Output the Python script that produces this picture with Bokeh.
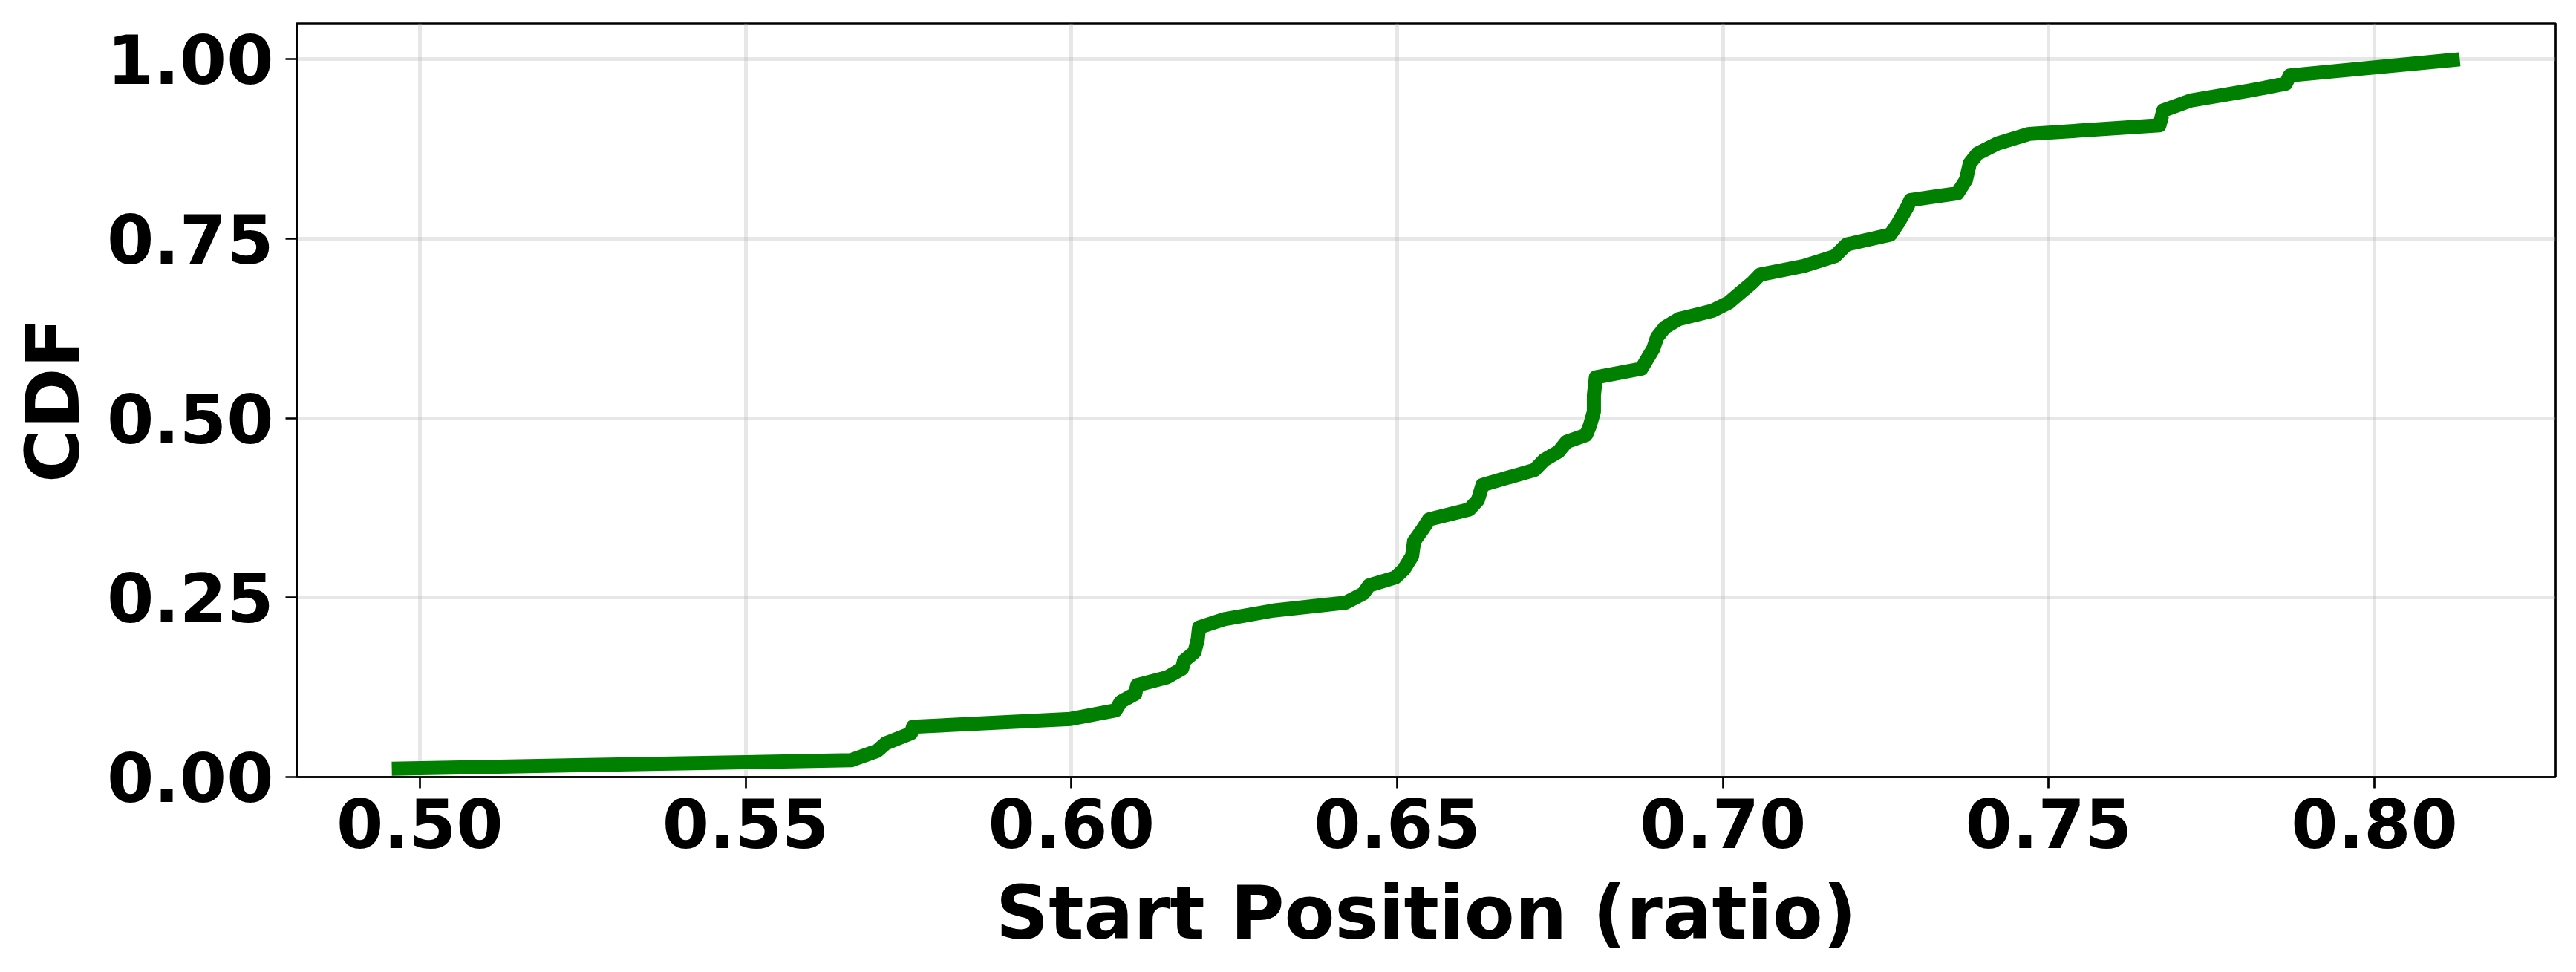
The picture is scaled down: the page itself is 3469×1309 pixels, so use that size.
from bokeh.plotting import figure
from bokeh.models import Range1d, FixedTicker, NumeralTickFormatter
from bokeh.embed import file_html
from bokeh.resources import INLINE

# Data
start_position = [0.4957, 0.5662, 0.5702, 0.5715, 0.5754, 0.5757, 0.5999, 0.6068, 0.6076, 0.6098,
                  0.6101, 0.6147, 0.6170, 0.6173, 0.6189, 0.6194, 0.6196, 0.6235, 0.6310, 0.6421,
                  0.6448, 0.6457, 0.6497, 0.6510, 0.6523, 0.6526, 0.6539, 0.6549, 0.6611, 0.6624,
                  0.6631, 0.6711, 0.6726, 0.6748, 0.6760, 0.6790, 0.6796, 0.6802, 0.6802, 0.6805,
                  0.6875, 0.6884, 0.6893, 0.6899, 0.6911, 0.6932, 0.6984, 0.7009, 0.7027, 0.7045,
                  0.7057, 0.7124, 0.7172, 0.7190, 0.7257, 0.7269, 0.7282, 0.7288, 0.7360, 0.7373,
                  0.7379, 0.7391, 0.7421, 0.7470, 0.7670, 0.7676, 0.7718, 0.7809, 0.7864, 0.7870,
                  0.8131]
cdf = [0.0117, 0.0235, 0.0365, 0.047, 0.061, 0.070, 0.081, 0.093, 0.105, 0.116,
       0.128, 0.139, 0.151, 0.162, 0.174, 0.192, 0.2085, 0.220, 0.232, 0.243,
       0.2556, 0.267, 0.278, 0.289, 0.308, 0.3285, 0.345, 0.359, 0.373, 0.386,
       0.407, 0.428, 0.442, 0.4535, 0.467, 0.4766, 0.490, 0.509, 0.532, 0.557,
       0.569, 0.5827, 0.5965, 0.6127, 0.6265, 0.638, 0.6496, 0.661, 0.675, 0.6887,
       0.700, 0.712, 0.7257, 0.742, 0.7557, 0.772, 0.7926, 0.804, 0.8133, 0.8318,
       0.855, 0.8687, 0.8825, 0.896, 0.908, 0.9287, 0.9425, 0.9565, 0.966, 0.9775,
       1.0]
x_ticks = [0.50, 0.55, 0.60, 0.65, 0.70, 0.75, 0.80]
y_ticks = [0.00, 0.25, 0.50, 0.75, 1.00]
x_label = "Start Position (ratio)"
y_label = "CDF"

FONT = "DejaVu Sans"

p = figure(width=3461, height=1301, output_backend="svg", toolbar_location=None,
           x_range=Range1d(0.4811, 0.8278), y_range=Range1d(0.0, 1.05),
           min_border_left=399, min_border_right=20, min_border_top=31, min_border_bottom=255)

p.line(start_position, cdf, line_color="#008000", line_width=19,
       line_join="round", line_cap="butt")

p.outline_line_color = "black"
p.outline_line_width = 2.7
p.background_fill_color = "white"
p.border_fill_color = "white"

for ax in (p.xaxis[0], p.yaxis[0]):
    ax.axis_line_width = 2.7
    ax.axis_line_color = "black"
    ax.major_tick_line_width = 2.7
    ax.major_tick_line_color = "black"
    ax.major_tick_out = 15
    ax.major_tick_in = 0
    ax.minor_tick_line_color = None
    ax.major_label_text_font = FONT
    ax.major_label_text_font_style = "bold"
    ax.major_label_text_font_size = "91px"
    ax.major_label_text_color = "black"
    ax.axis_label_text_font = FONT
    ax.axis_label_text_font_style = "bold"
    ax.axis_label_text_font_size = "99px"
    ax.axis_label_text_color = "black"

p.xaxis.ticker = FixedTicker(ticks=x_ticks)
p.yaxis.ticker = FixedTicker(ticks=y_ticks)
p.xaxis.formatter = NumeralTickFormatter(format="0.00")
p.yaxis.formatter = NumeralTickFormatter(format="0.00")
p.xaxis.axis_label = x_label
p.yaxis.axis_label = y_label
p.xaxis.major_label_standoff = 13
p.yaxis.major_label_standoff = 16
p.xaxis.axis_label_standoff = 27
p.yaxis.axis_label_standoff = 12

p.xgrid.ticker = FixedTicker(ticks=x_ticks)
p.ygrid.ticker = FixedTicker(ticks=y_ticks)
for g in (p.xgrid[0], p.ygrid[0]):
    g.grid_line_color = "#b0b0b0"
    g.grid_line_alpha = 0.3
    g.grid_line_width = 5

open("out.html", "w").write(file_html(p, INLINE))
